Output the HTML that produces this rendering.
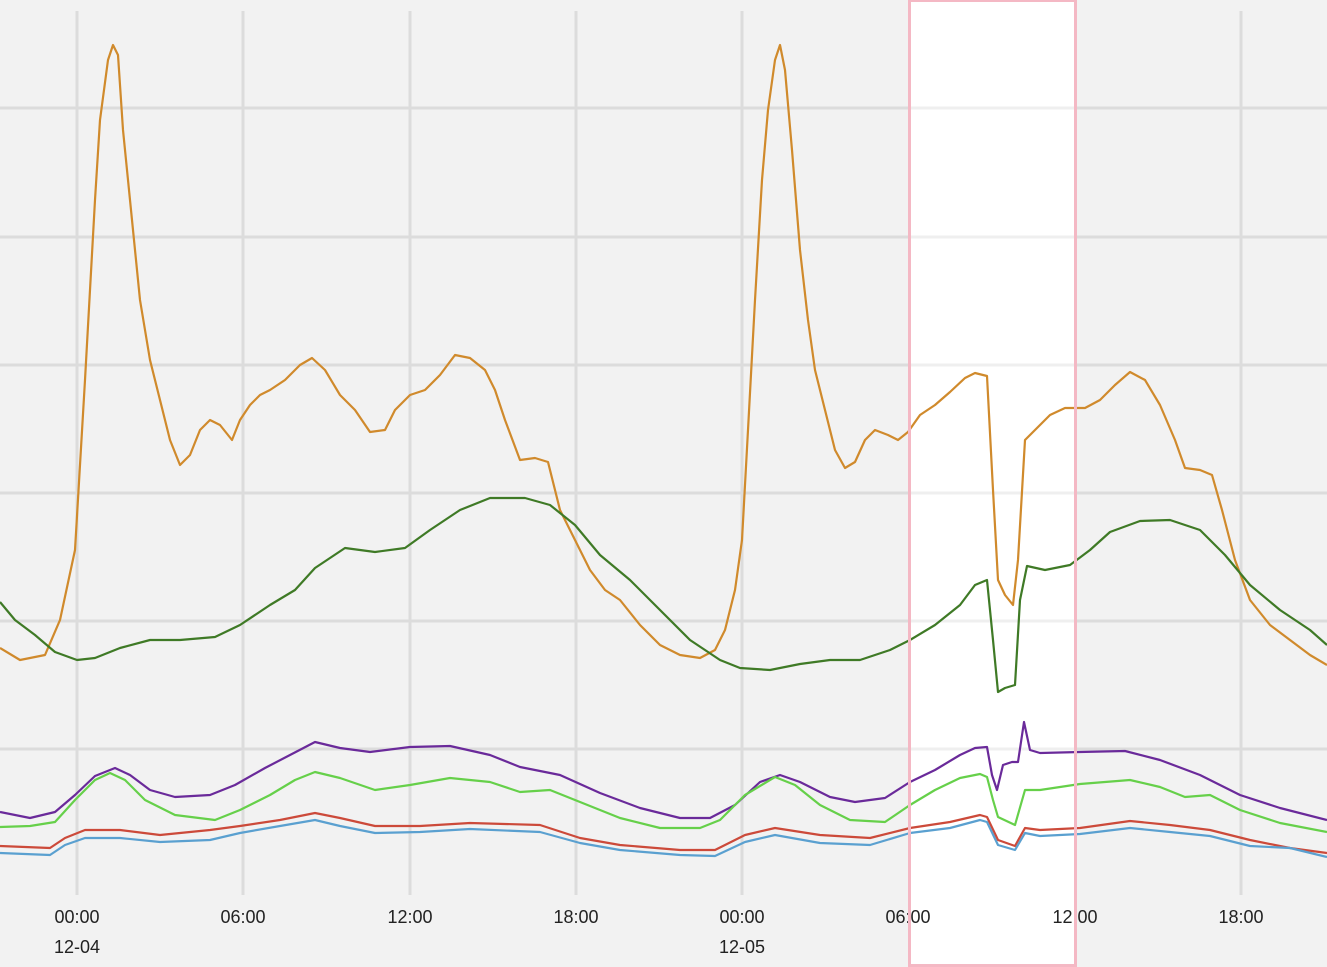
<!DOCTYPE html>
<html><head><meta charset="utf-8"><style>html,body{margin:0;padding:0;background:#f2f2f2}svg{display:block}</style></head><body>
<svg width="1327" height="967" viewBox="0 0 1327 967" xmlns="http://www.w3.org/2000/svg">
<rect width="1327" height="967" fill="#f2f2f2"/>
<g stroke="#dcdcdc" stroke-width="3">
<line x1="0" y1="108" x2="1327" y2="108"/><line x1="0" y1="237" x2="1327" y2="237"/><line x1="0" y1="365" x2="1327" y2="365"/><line x1="0" y1="493" x2="1327" y2="493"/><line x1="0" y1="621" x2="1327" y2="621"/><line x1="0" y1="749" x2="1327" y2="749"/>
<line x1="77" y1="11" x2="77" y2="895"/><line x1="243" y1="11" x2="243" y2="895"/><line x1="410" y1="11" x2="410" y2="895"/><line x1="576" y1="11" x2="576" y2="895"/><line x1="742" y1="11" x2="742" y2="895"/><line x1="1241" y1="11" x2="1241" y2="895"/>
</g>
<rect x="908" y="0" width="168" height="967" fill="#ffffff"/>
<g stroke="#efefef" stroke-width="3">
<line x1="908" y1="108" x2="1076" y2="108"/><line x1="908" y1="237" x2="1076" y2="237"/><line x1="908" y1="365" x2="1076" y2="365"/><line x1="908" y1="493" x2="1076" y2="493"/><line x1="908" y1="621" x2="1076" y2="621"/><line x1="908" y1="749" x2="1076" y2="749"/>
</g>
<g fill="none" stroke-width="2.2" stroke-linejoin="round">
<polyline stroke="#d08a2c" points="0,648 20,660 45,655 60,620 75,550 85,380 95,200 100,120 108,60 113,45 118,55 123,130 130,200 140,300 150,360 160,400 170,440 180,465 190,455 200,430 210,420 220,425 232,440 240,420 250,405 260,395 270,390 285,380 300,365 312,358 325,370 340,395 355,410 370,432 385,430 395,410 410,395 425,390 440,375 455,355 470,358 485,370 495,390 505,420 520,460 535,458 548,462 560,510 575,540 590,570 605,590 620,600 640,625 660,645 680,655 700,658 715,650 725,630 735,590 742,540 748,430 755,300 762,180 768,110 775,60 780,45 785,70 792,150 800,250 808,320 815,370 825,410 835,450 845,468 855,462 865,440 875,430 888,435 898,440 908,432 920,415 935,405 950,392 965,378 975,373 987,376 993,490 998,580 1005,595 1013,605 1018,560 1025,440 1035,430 1050,415 1065,408 1085,408 1100,400 1115,385 1130,372 1145,380 1160,405 1175,440 1185,468 1200,470 1212,475 1222,510 1235,560 1250,600 1270,625 1290,640 1310,655 1327,665"/>
<polyline stroke="#3f7a26" points="0,602 15,620 35,635 55,652 77,660 95,658 120,648 150,640 180,640 215,637 240,625 270,605 295,590 315,568 345,548 375,552 405,548 430,530 460,510 490,498 525,498 550,505 575,525 600,555 630,580 660,610 690,640 720,660 740,668 770,670 800,664 830,660 860,660 890,650 910,640 935,625 960,605 975,585 987,580 993,640 998,692 1005,688 1015,685 1020,600 1027,566 1045,570 1070,565 1090,550 1110,532 1140,521 1170,520 1200,530 1225,555 1250,585 1280,610 1310,630 1327,645"/>
<polyline stroke="#6a2a9a" points="0,812 30,818 55,812 75,795 95,776 115,768 130,775 150,790 175,797 210,795 235,785 265,768 290,755 315,742 340,748 370,752 410,747 450,746 490,755 520,767 560,775 600,793 640,808 680,818 710,818 735,805 760,782 780,775 800,782 830,797 855,802 885,798 910,782 935,770 960,755 975,748 987,747 992,775 997,790 1003,765 1012,762 1018,762 1024,722 1030,750 1040,753 1080,752 1125,751 1160,760 1200,775 1240,795 1280,808 1327,820"/>
<polyline stroke="#66d04a" points="0,827 30,826 55,822 75,800 95,780 110,773 125,780 145,800 175,815 215,820 240,810 270,795 295,780 315,772 340,778 375,790 410,785 450,778 490,782 520,792 550,790 580,802 620,818 660,828 700,828 720,820 745,795 775,777 795,785 820,805 850,820 885,822 910,805 935,790 960,778 980,774 987,777 993,800 998,817 1015,825 1025,790 1040,790 1080,784 1130,780 1160,787 1185,797 1210,795 1240,810 1280,823 1327,832"/>
<polyline stroke="#cc4a3a" points="0,846 50,848 65,838 85,830 120,830 160,835 210,830 240,826 280,820 315,813 340,818 375,826 420,826 470,823 540,825 580,838 620,845 680,850 715,850 745,835 775,828 820,835 870,838 910,828 950,822 980,815 987,817 998,840 1015,846 1025,828 1040,830 1080,828 1130,821 1170,825 1210,830 1250,840 1290,848 1327,853"/>
<polyline stroke="#5aa0d0" points="0,853 50,855 65,845 85,838 120,838 160,842 210,840 240,833 280,826 315,820 340,826 375,833 420,832 470,829 540,832 580,843 620,850 680,855 715,856 745,842 775,835 820,843 870,845 910,833 950,828 980,820 987,822 998,845 1015,850 1025,833 1040,836 1080,834 1130,828 1170,832 1210,836 1250,846 1290,848 1327,857"/>
</g>
<g font-family="Liberation Sans, sans-serif" font-size="18" fill="#222" text-anchor="middle">
<text x="77" y="923">00:00</text><text x="77" y="953">12-04</text>
<text x="243" y="923">06:00</text><text x="410" y="923">12:00</text><text x="576" y="923">18:00</text>
<text x="742" y="923">00:00</text><text x="742" y="953">12-05</text>
<text x="908" y="923">06:00</text><text x="1075" y="923">12:00</text><text x="1241" y="923">18:00</text>
</g>
<rect x="909.5" y="0.5" width="166" height="965" fill="none" stroke="#f4b8c4" stroke-width="3"/>
</svg>
</body></html>
